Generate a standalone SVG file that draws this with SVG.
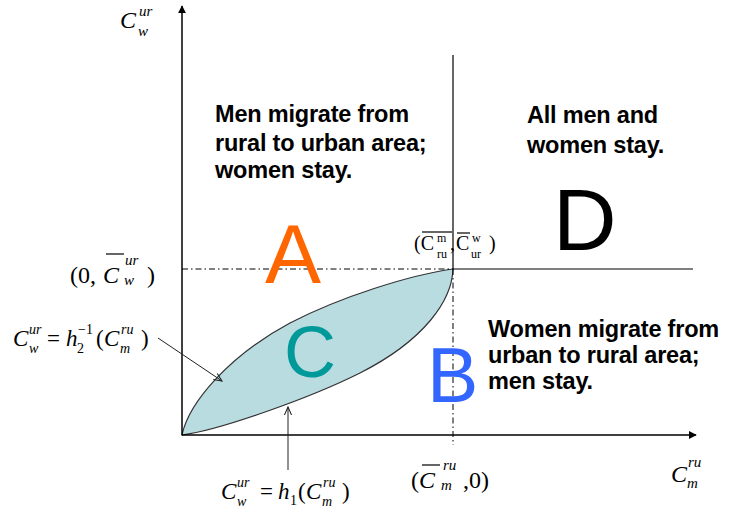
<svg xmlns="http://www.w3.org/2000/svg" width="730" height="508" viewBox="0 0 730 508">
<style>
.ax{stroke:#000;stroke-width:1.5;fill:none}
.sl{stroke:#000;stroke-width:1.2;fill:none}
.dd{stroke:#000;stroke-width:1;fill:none;stroke-dasharray:6 3 1.5 3}
.ptr{stroke:#222;stroke-width:1;fill:none}
.body{font-family:"Liberation Sans",Arial,sans-serif;font-weight:bold;font-size:23.5px;fill:#000;letter-spacing:-0.2px}
.big{font-family:"Liberation Sans",Arial,sans-serif}
.m{font-family:"Liberation Serif","Times New Roman",serif;fill:#000}
.i{font-style:italic}
</style>
<defs>
<marker id="ah" viewBox="0 0 10 10" refX="9" refY="5" markerWidth="8" markerHeight="8" markerUnits="userSpaceOnUse" orient="auto">
<path d="M0,0 L10,5 L0,10 z" fill="#000"/>
</marker>
<marker id="oh" viewBox="0 0 10 10" refX="9" refY="5" markerWidth="9" markerHeight="9" markerUnits="userSpaceOnUse" orient="auto">
<path d="M0,1 L9,5 L0,9" fill="none" stroke="#222" stroke-width="1.2"/>
</marker>
</defs>

<g id="region-C">
<path d="M182,435 C189,402 230,355 290,323 C340,297 410,275 453,269 C452,300 425,340 360,373 C310,398 220,430 182,435 Z" fill="#B8DCE0" stroke="#333" stroke-width="1.2"/>
<text class="big" x="284" y="377" font-size="72" fill="#009999">C</text>
</g>

<g id="connectors">
<line class="ax" x1="182" y1="435" x2="182" y2="6" marker-end="url(#ah)"/>
<line class="ax" x1="182" y1="435" x2="696" y2="435" marker-end="url(#ah)"/>
<line class="sl" x1="453" y1="55" x2="453" y2="269"/>
<line class="sl" x1="453" y1="269" x2="693" y2="269"/>
<line class="dd" x1="182" y1="269" x2="453" y2="269"/>
<line class="dd" x1="453" y1="269" x2="453" y2="445"/>
<line class="ptr" x1="158" y1="338" x2="222" y2="381" marker-end="url(#oh)"/>
<line class="ptr" x1="288" y1="470" x2="288" y2="407" marker-end="url(#oh)"/>
</g>

<g id="region-A">
<text class="body" x="215" y="122">Men migrate from</text>
<text class="body" x="215" y="151">rural to urban area;</text>
<text class="body" x="215" y="178">women stay.</text>
<text class="big" x="265" y="283" font-size="84" fill="#FF6600">A</text>
</g>

<g id="region-D">
<text class="body" x="527" y="123">All men and</text>
<text class="body" x="527" y="153">women stay.</text>
<text class="big" x="553" y="250" font-size="88" fill="#000">D</text>
</g>

<g id="region-B">
<text class="body" x="488" y="337">Women migrate from</text>
<text class="body" x="488" y="363">urban to rural area;</text>
<text class="body" x="488" y="389">men stay.</text>
<text class="big" x="427" y="402" font-size="77" fill="#3366FF">B</text>
</g>

<g id="label-y-axis" class="m">
<text class="i" x="120" y="28" font-size="24">C</text>
<text class="i" x="139" y="16" font-size="15">ur</text>
<text class="i" x="138" y="36" font-size="15">w</text>
</g>

<g id="label-x-axis" class="m">
<text class="i" x="671" y="482" font-size="24">C</text>
<text class="i" x="688" y="467" font-size="15">ru</text>
<text class="i" x="687" y="488" font-size="15">m</text>
</g>

<g id="label-y-bar" class="m">
<text x="70" y="283" font-size="24">(0,</text>
<text class="i" x="103" y="283" font-size="24">C</text>
<line x1="106" y1="254" x2="124" y2="254" stroke="#000" stroke-width="1.2"/>
<text class="i" x="125" y="265" font-size="15">ur</text>
<text class="i" x="124" y="285" font-size="15">w</text>
<text x="147" y="283" font-size="24">)</text>
</g>

<g id="label-corner" class="m">
<text x="414" y="250" font-size="20">(C</text>
<line x1="422" y1="232" x2="452" y2="232" stroke="#000" stroke-width="1.2"/>
<text x="437" y="242" font-size="12">m</text>
<text x="437" y="258" font-size="12">ru</text>
<text x="450" y="250" font-size="20">,</text>
<text x="456" y="250" font-size="20">C</text>
<line x1="457" y1="233" x2="470" y2="233" stroke="#000" stroke-width="1.2"/>
<text x="472" y="242" font-size="12">w</text>
<text x="471" y="258" font-size="12">ur</text>
<text x="489" y="250" font-size="20">)</text>
</g>

<g id="label-x-bar" class="m">
<text x="411" y="488" font-size="24">(</text>
<text class="i" x="419" y="488" font-size="24">C</text>
<line x1="422" y1="465" x2="440" y2="465" stroke="#000" stroke-width="1.2"/>
<text class="i" x="443" y="470" font-size="15">ru</text>
<text class="i" x="441" y="490" font-size="15">m</text>
<text x="463" y="488" font-size="24">,0)</text>
</g>

<g id="label-h2" class="m">
<text class="i" x="13" y="346" font-size="23">C</text>
<text class="i" x="29" y="334" font-size="14">ur</text>
<text class="i" x="29" y="353" font-size="14">w</text>
<text x="47" y="346" font-size="23">=</text>
<text class="i" x="66" y="346" font-size="23">h</text>
<text x="78" y="334" font-size="14">−1</text>
<text x="77" y="353" font-size="14">2</text>
<text x="96" y="346" font-size="23">(</text>
<text class="i" x="104" y="346" font-size="23">C</text>
<text class="i" x="121" y="334" font-size="14">ru</text>
<text class="i" x="120" y="353" font-size="14">m</text>
<text x="141" y="346" font-size="23">)</text>
</g>

<g id="label-h1" class="m">
<text class="i" x="221" y="499" font-size="23">C</text>
<text class="i" x="237" y="487" font-size="14">ur</text>
<text class="i" x="237" y="506" font-size="14">w</text>
<text x="260" y="499" font-size="23">=</text>
<text class="i" x="278" y="499" font-size="23">h</text>
<text x="290" y="505" font-size="14">1</text>
<text x="298" y="499" font-size="23">(</text>
<text class="i" x="306" y="499" font-size="23">C</text>
<text class="i" x="323" y="487" font-size="14">ru</text>
<text class="i" x="322" y="506" font-size="14">m</text>
<text x="342" y="499" font-size="23">)</text>
</g>
</svg>
